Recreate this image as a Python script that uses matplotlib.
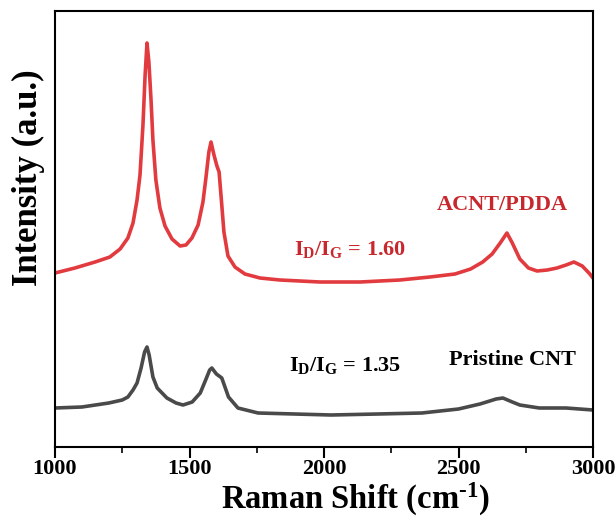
import matplotlib
matplotlib.use("Agg")
import matplotlib.pyplot as plt
from matplotlib.ticker import MultipleLocator

# Raman shift (cm^-1) and intensities (a.u.)
acnt_shift = [1000, 1074, 1149, 1204, 1242, 1271, 1290, 1305, 1316, 1327, 1335, 1342,
              1349, 1357, 1364, 1375, 1390, 1409, 1435, 1465, 1487, 1509, 1532, 1550,
              1561, 1572, 1580, 1591, 1602, 1610, 1617, 1628, 1643, 1669, 1706, 1762,
              1836, 1985, 2134, 2282, 2394, 2487, 2545, 2590, 2625, 2655, 2680, 2700,
              2728, 2760, 2792, 2830, 2866, 2900, 2929, 2960, 2985, 3000]
acnt_int = [174, 179, 185, 190, 198, 209, 224, 247, 272, 322, 372, 404,
            385, 347, 307, 267, 239, 221, 208, 201, 202, 209, 222, 245,
            269, 295, 305, 292, 281, 275, 252, 215, 191, 180, 173, 169,
            167, 165, 165, 167, 170, 173, 178, 185, 193, 204, 214, 204,
            188, 179, 176, 177, 179, 182, 185, 181, 174, 169]

cnt_shift = [1000, 1100, 1200, 1250, 1271, 1290, 1305, 1320, 1333, 1342, 1350, 1364,
             1380, 1416, 1450, 1476, 1510, 1540, 1560, 1575, 1583, 1600, 1620, 1645,
             1680, 1755, 2026, 2200, 2364, 2500, 2580, 2640, 2665, 2700, 2728, 2800,
             2900, 3000]
cnt_int = [39, 40, 44, 47, 50, 57, 64, 79, 95, 100, 92, 70,
           59, 49, 44, 42, 45, 54, 67, 77, 79, 73, 69, 50,
           39, 34, 32, 33, 34, 38, 43, 48, 49, 45, 42, 39,
           39, 37]

x_ticks = [1000, 1500, 2000, 2500, 3000]

plt.rcParams['font.family'] = ['Liberation Serif', 'DejaVu Serif']
plt.rcParams['font.weight'] = 'bold'
plt.rcParams['mathtext.fontset'] = 'custom'
plt.rcParams['mathtext.rm'] = 'Liberation Serif:bold'
plt.rcParams['mathtext.bf'] = 'Liberation Serif:bold'
plt.rcParams['mathtext.it'] = 'Liberation Serif:bold'

fig = plt.figure(figsize=(6.16, 5.22), dpi=100)
ax = fig.add_axes([55/616, 75/522, 538/616, 436/522])

ax.plot(acnt_shift, acnt_int, color='#e23b3f', lw=2.6)
ax.plot(cnt_shift, cnt_int, color='#4a4a4a', lw=2.6)

ax.set_xlim(1000, 3000)
ax.set_ylim(0, 436)
ax.set_xticks(x_ticks)
ax.xaxis.set_minor_locator(MultipleLocator(250))
ax.set_yticks([])
ax.tick_params(axis='x', which='major', direction='out', length=8, width=1.5,
               labelsize=16, pad=1)
ax.tick_params(axis='x', which='minor', direction='out', length=4, width=1.2)
for lab in ax.get_xticklabels():
    lab.set_fontweight('bold')
for s in ax.spines.values():
    s.set_linewidth(1.5)

fig.text(355/616, 13/522, 'Raman Shift (cm$^{\\text{-1}}$)', fontsize=23.5,
         fontweight='bold', ha='center', va='baseline')
fig.text(28/616, (522-178)/522, 'Intensity (a.u.)', fontsize=25, fontweight='bold',
         rotation=90, ha='center', va='center')

ax.text(2662, 242, 'ACNT/PDDA', color='#c8282d', fontsize=16, fontweight='bold',
        ha='center', va='center')
ax.text(1890, 197, '$\\mathbf{I_D/I_G}$ = 1.60', color='#c8282d', fontsize=16,
        fontweight='bold', ha='left', va='center')
ax.text(1870, 81, '$\\mathbf{I_D/I_G}$ = 1.35', color='black', fontsize=16,
        fontweight='bold', ha='left', va='center')
ax.text(2702, 87, 'Pristine CNT', color='black', fontsize=16, fontweight='bold',
        ha='center', va='center')

fig.savefig('out.png', dpi=100)
